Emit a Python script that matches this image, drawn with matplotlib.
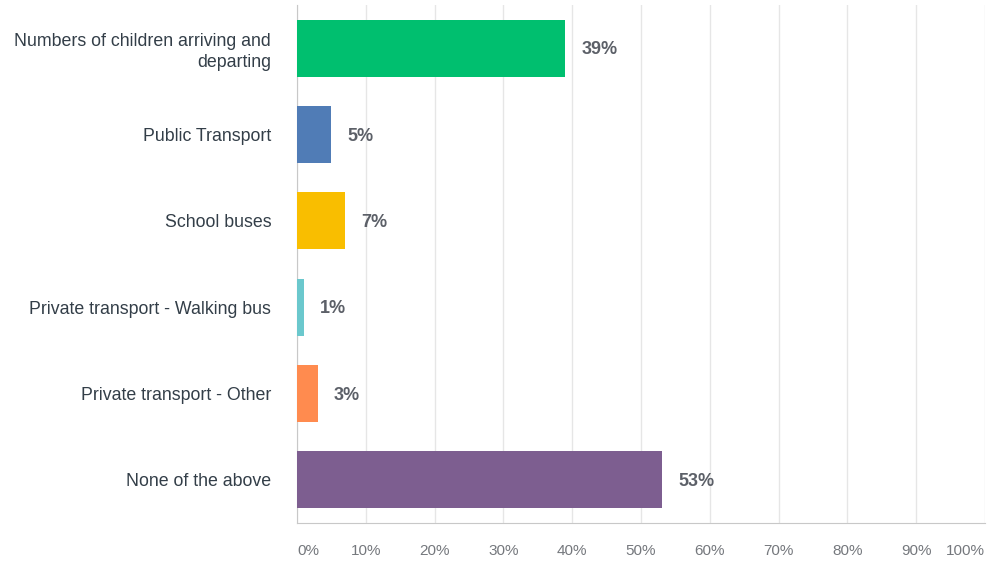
import matplotlib
import matplotlib.pyplot as plt

matplotlib.use('Agg')

# Survey answers and share of respondents (%)
categories = ['Numbers of children arriving and\ndeparting', 'Public Transport', 'School buses',
              'Private transport - Walking bus', 'Private transport - Other', 'None of the above']
values = [39, 5, 7, 1, 3, 53]
colors = ['#00bf6f', '#507cb6', '#f9be00', '#6bc8cd', '#ff8b4f', '#7d5e90']
xticks = [0, 10, 20, 30, 40, 50, 60, 70, 80, 90, 100]
xtick_labels = ['0%', '10%', '20%', '30%', '40%', '50%', '60%', '70%', '80%', '90%', '100%']

plt.rcParams['font.family'] = ['Liberation Sans', 'DejaVu Sans']

fig = plt.figure(figsize=(9.93, 5.64), dpi=100)
ax = fig.add_axes([0.299, 0.073, 0.693, 0.918])

pos = list(range(len(categories)))
ax.barh(pos, values, height=0.66, color=colors, zorder=3)

# value labels next to each bar
for p, v in zip(pos, values):
    ax.text(v + 2.4, p + 0.02, f'{v}%', va='center', ha='left', fontsize=13,
            fontweight='bold', color='#5c6068')

ax.set_xlim(0, 100)
ax.set_ylim(len(categories) - 0.5, -0.5)
ax.set_yticks(pos)
ax.set_yticklabels(categories, fontsize=12.8, color='#333e48', linespacing=1.3)
ax.set_xticks(xticks)
ax.set_xticklabels(xtick_labels, fontsize=11, color='#75787d')
ax.tick_params(axis='y', length=0, pad=18.5)
ax.tick_params(axis='x', length=0, pad=15)

# keep the end labels inside the plot edges
xlabels = ax.get_xticklabels()
xlabels[0].set_horizontalalignment('left')
xlabels[-1].set_horizontalalignment('right')

ax.grid(axis='x', color='#e6e6e6', linewidth=1, zorder=0)
for s in ['top', 'right']:
    ax.spines[s].set_visible(False)
ax.spines['left'].set_color('#c8c8c8')
ax.spines['bottom'].set_color('#c8c8c8')

fig.savefig('out.png')
